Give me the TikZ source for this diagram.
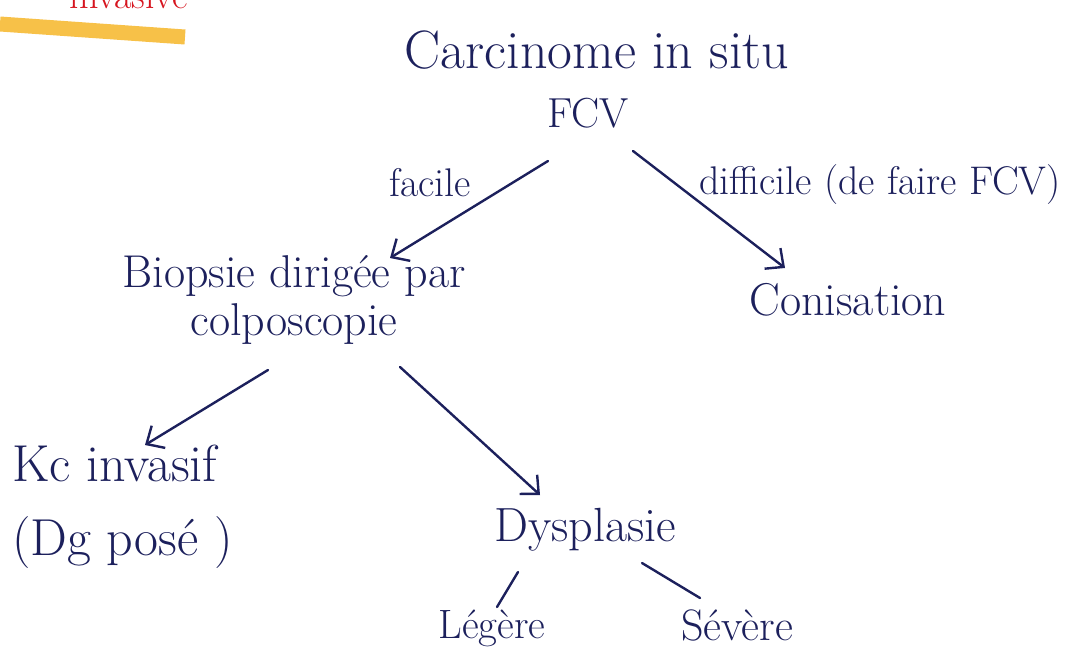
\documentclass[tikz,border=0pt]{standalone}
\usetikzlibrary{arrows.meta}
\definecolor{ink}{RGB}{28,32,92}
\definecolor{hilite}{RGB}{246,186,52}
\definecolor{redink}{RGB}{214,20,30}
\newcommand{\fs}[1]{\fontsize{#1}{#1}\selectfont}
\tikzset{
  lbl/.style={text=ink, inner sep=0pt},
  arr/.style={draw=ink, line width=2.4pt, line cap=round, -{Straight Barb[length=14pt,width=26pt,line width=2.4pt]}},
  ln/.style={draw=ink, line width=2.4pt, line cap=round},
}
\begin{document}
\begin{tikzpicture}[x=1pt,y=-1pt]
\useasboundingbox (0,0) rectangle (1066,658);
% highlight remnant top left
\draw[hilite, line width=15pt, opacity=0.9] (0,24) -- (185,37);
\node[text=redink, inner sep=0pt, anchor=base east, font=\fs{38}] (inv) at (188,9) {invasive};
% nodes
\node[lbl, font=\fs{54}] (cis) at (597,50) {Carcinome in situ};
\node[lbl, font=\fs{42}] (fcv) at (588,113) {FCV};
\node[lbl, font=\fs{40}] (fac) at (430,183) {facile};
\node[lbl, font=\fs{40}] (dif) at (880,185) {difficile (de faire FCV)};
\node[lbl, align=center, font=\fs{46}] (biop) at (294,300) {Biopsie dirigée par\\[2pt]colposcopie};
\node[lbl, font=\fs{46}] (conis) at (848,300) {Conisation};
\node[lbl, align=left, anchor=west, font=\fs{52}] (kc) at (12,507) {Kc invasif\\[22pt](Dg posé )};
\node[lbl, font=\fs{48}] (dys) at (585,530) {Dysplasie};
\node[lbl, font=\fs{41}] (leg) at (492,628) {Légère};
\node[lbl, font=\fs{44}] (sev) at (737,625) {Sévère};
% connectors
\draw[arr] ([shift={(-40,48)}]fcv.center) -- ([shift={(96,-42)}]biop.center);
\draw[arr] ([shift={(45,38)}]fcv.center) -- ([shift={(-63,-32)}]conis.center);
\draw[arr] ([shift={(-26,70)}]biop.center) -- ([shift={(133,-62)}]kc.west);
\draw[arr] ([shift={(106,67)}]biop.center) -- ([shift={(-45,-35)}]dys.center);
\draw[ln] ([shift={(-67,42)}]dys.center) -- ([shift={(5,-21)}]leg.center);
\draw[ln] ([shift={(57,33)}]dys.center) -- ([shift={(-37,-27)}]sev.center);
\end{tikzpicture}
\end{document}
